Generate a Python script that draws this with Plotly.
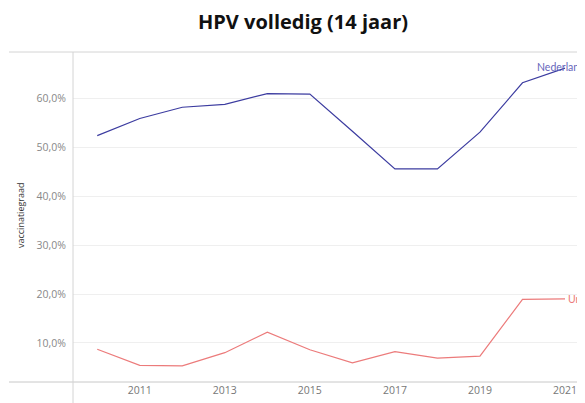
import plotly.graph_objects as go

years = [2010, 2011, 2012, 2013, 2014, 2015, 2016, 2017, 2018, 2019, 2020, 2021]
nederland = [52.4, 55.9, 58.2, 58.8, 61.0, 60.9, 53.3, 45.6, 45.6, 53.1, 63.2, 66.2]
urk = [8.7, 5.4, 5.3, 8.0, 12.2, 8.6, 5.9, 8.2, 6.9, 7.3, 18.9, 19.0]
tick_years = [2011, 2013, 2015, 2017, 2019, 2021]
y_ticks = [10, 20, 30, 40, 50, 60]
y_tick_labels = ["10,0%", "20,0%", "30,0%", "40,0%", "50,0%", "60,0%"]

# page body has an 8px margin; figure coords = screen coords - 8
OFF = 8
W, H = 585 - OFF, 403 - OFF
L, R, T, B = 73 - OFF, 0, 52 - OFF, 21
pw, ph = W - L - R, H - T - B

fig = go.Figure()
fig.add_trace(go.Scatter(x=years, y=nederland, mode="lines", name="Nederland",
                         line=dict(color="#3c3ca0", width=1.2), showlegend=False))
fig.add_trace(go.Scatter(x=years, y=urk, mode="lines", name="Urk",
                         line=dict(color="#ec7b7b", width=1.2), showlegend=False))

fig.add_annotation(x=years[-1], y=nederland[-1], text="Nederland", showarrow=False,
                   xanchor="left", yanchor="middle", xshift=-30, yshift=1,
                   font=dict(family="Lato", size=10.5, color="#6666bb"))
fig.add_annotation(x=years[-1], y=urk[-1], text="Urk", showarrow=False,
                   xanchor="left", yanchor="middle", xshift=1,
                   font=dict(family="Lato", size=10.5, color="#ec7b7b"))

fig.add_annotation(xref="paper", yref="paper", x=(20 - 73) / pw, y=(382 - 215) / ph,
                   text="vaccinatiegraad", textangle=-90, showarrow=False,
                   xanchor="center", yanchor="middle",
                   font=dict(family="Open Sans", size=9, color="#333333"))

# frame lines
fig.add_shape(type="line", xref="paper", yref="paper", x0=(9 - 73) / pw, x1=1, y0=1, y1=1,
              line=dict(color="#d4d4d4", width=1))
fig.add_shape(type="line", xref="paper", yref="paper", x0=(9 - 73) / pw, x1=1, y0=0, y1=0,
              line=dict(color="#c8c8c8", width=1))
fig.add_shape(type="line", xref="paper", yref="paper", x0=0, x1=0, y0=-B / ph, y1=1,
              line=dict(color="#d4d4d4", width=1))

fig.update_layout(
    width=W, height=H,
    margin=dict(l=L, r=R, t=T, b=B),
    paper_bgcolor="white", plot_bgcolor="white",
    title=dict(text="<b>HPV volledig (14 jaar)</b>", x=(303 - OFF) / W, xanchor="center",
               y=1 - (22 - OFF) / H, yanchor="middle",
               font=dict(family="Open Sans", size=20, color="#111111")),
    xaxis=dict(range=[2009.43, 2021.47], tickvals=tick_years, ticktext=[str(y) for y in tick_years],
               showgrid=False, zeroline=False, showline=False, ticks="",
               tickfont=dict(family="Open Sans", size=10.5, color="#777777")),
    yaxis=dict(range=[2.0, 69.5], tickvals=y_ticks, ticktext=y_tick_labels,
               showgrid=True, gridcolor="#efefef", gridwidth=1, zeroline=False, showline=False,
               ticks="", ticklabelstandoff=6,
               tickfont=dict(family="Open Sans", size=10.5, color="#888888")),
)

fig.write_html("out.html")
